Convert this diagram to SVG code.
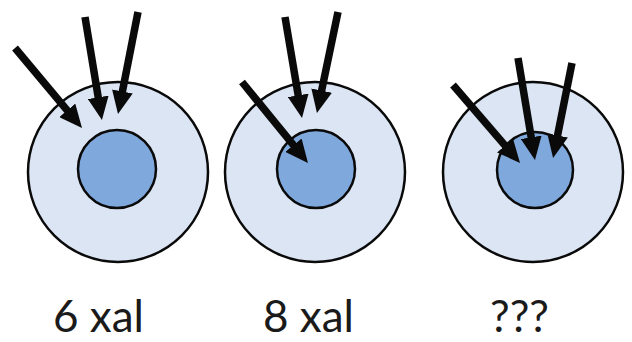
<svg xmlns="http://www.w3.org/2000/svg" width="632" height="342" viewBox="0 0 632 342">
<style>
.outer{fill:#dbe5f3;stroke:#0a0a0a;stroke-width:2.5}
.inner{fill:#7fa8dc;stroke:#0a0a0a;stroke-width:2.5}
.arr{stroke:#0a0a0a;stroke-width:7.5;fill:none;marker-end:url(#ah)}
.lbl{font-family:Lato,"Open Sans",sans-serif;font-size:44px;fill:#1a1a1a;text-anchor:middle}
</style>
<defs>
<marker id="ah" markerUnits="userSpaceOnUse" viewBox="0 0 23 21" markerWidth="23" markerHeight="21" refX="11" refY="10.5" orient="auto">
<path d="M0,0 L23,10.5 L0,21 z" fill="#0a0a0a"/>
</marker>
</defs>
<rect width="632" height="342" fill="#ffffff"/>
<g id="cell1">
<circle class="outer" cx="118" cy="172" r="90"/>
<circle class="inner" cx="117" cy="169" r="39"/>
</g>
<g id="cell2">
<circle class="outer" cx="315" cy="172" r="90"/>
<circle class="inner" cx="316" cy="169" r="39"/>
</g>
<g id="cell3">
<circle class="outer" cx="533" cy="172" r="90"/>
<circle class="inner" cx="535" cy="170" r="38"/>
</g>
<g id="connectors">
<line class="arr" x1="15" y1="48" x2="74.3" y2="118.8"/>
<line class="arr" x1="85" y1="17" x2="100" y2="108.2"/>
<line class="arr" x1="138" y1="12" x2="120.3" y2="102.2"/>
<line class="arr" x1="242" y1="82" x2="300.4" y2="153.7"/>
<line class="arr" x1="285" y1="17" x2="300" y2="106.2"/>
<line class="arr" x1="338" y1="12" x2="319.4" y2="101.3"/>
<line class="arr" x1="453" y1="85" x2="512.2" y2="153.9"/>
<line class="arr" x1="518" y1="58" x2="533" y2="148.2"/>
<line class="arr" x1="572" y1="63" x2="555.4" y2="146.2"/>
</g>
<g id="labels">
<text class="lbl" x="98.5" y="332">6 xal</text>
<text class="lbl" x="308.5" y="332">8 xal</text>
<text class="lbl" x="519.5" y="332">???</text>
</g>
</svg>
